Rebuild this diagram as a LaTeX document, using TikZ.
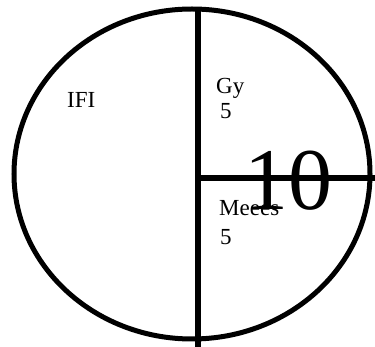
\documentclass[tikz,border=0pt]{standalone}
\usepackage{fontspec}
\setmainfont{Liberation Serif}
\begin{document}
\begin{tikzpicture}[x=1pt,y=-1pt]
        \useasboundingbox (0,0) rectangle (375,347);
        \draw[line width=5pt] (192,174) ellipse [x radius=178, y radius=165];
        \coordinate (top) at (198,8);
        \coordinate (bot) at (198,347);
        \coordinate (mid) at (195,178);
        \coordinate (rgt) at (375,178);
        \draw[line width=5.5pt] (top) -- (bot);
        \draw[line width=5.5pt] (mid) -- (rgt);
        \node[anchor=base west,inner sep=0pt,font=\fontsize{23}{26}\selectfont] (ifi) at (67,108) {IFI};
        \node[anchor=base west,inner sep=0pt,font=\fontsize{23}{26}\selectfont] (gy) at (216,94) {Gy};
        \node[anchor=base west,inner sep=0pt,font=\fontsize{23}{26}\selectfont] (gyn) at (220,119) {5};
        \node[anchor=base west,inner sep=0pt,font=\fontsize{23}{26}\selectfont] (meees) at (219,216) {Meees};
        \node[anchor=base west,inner sep=0pt,font=\fontsize{23}{26}\selectfont] (meeesn) at (220,245) {5};
        \node[anchor=base west,inner sep=0pt,font=\fontsize{88}{88}\selectfont] (ten) at (244,210) {10};
    \end{tikzpicture}
\end{document}
